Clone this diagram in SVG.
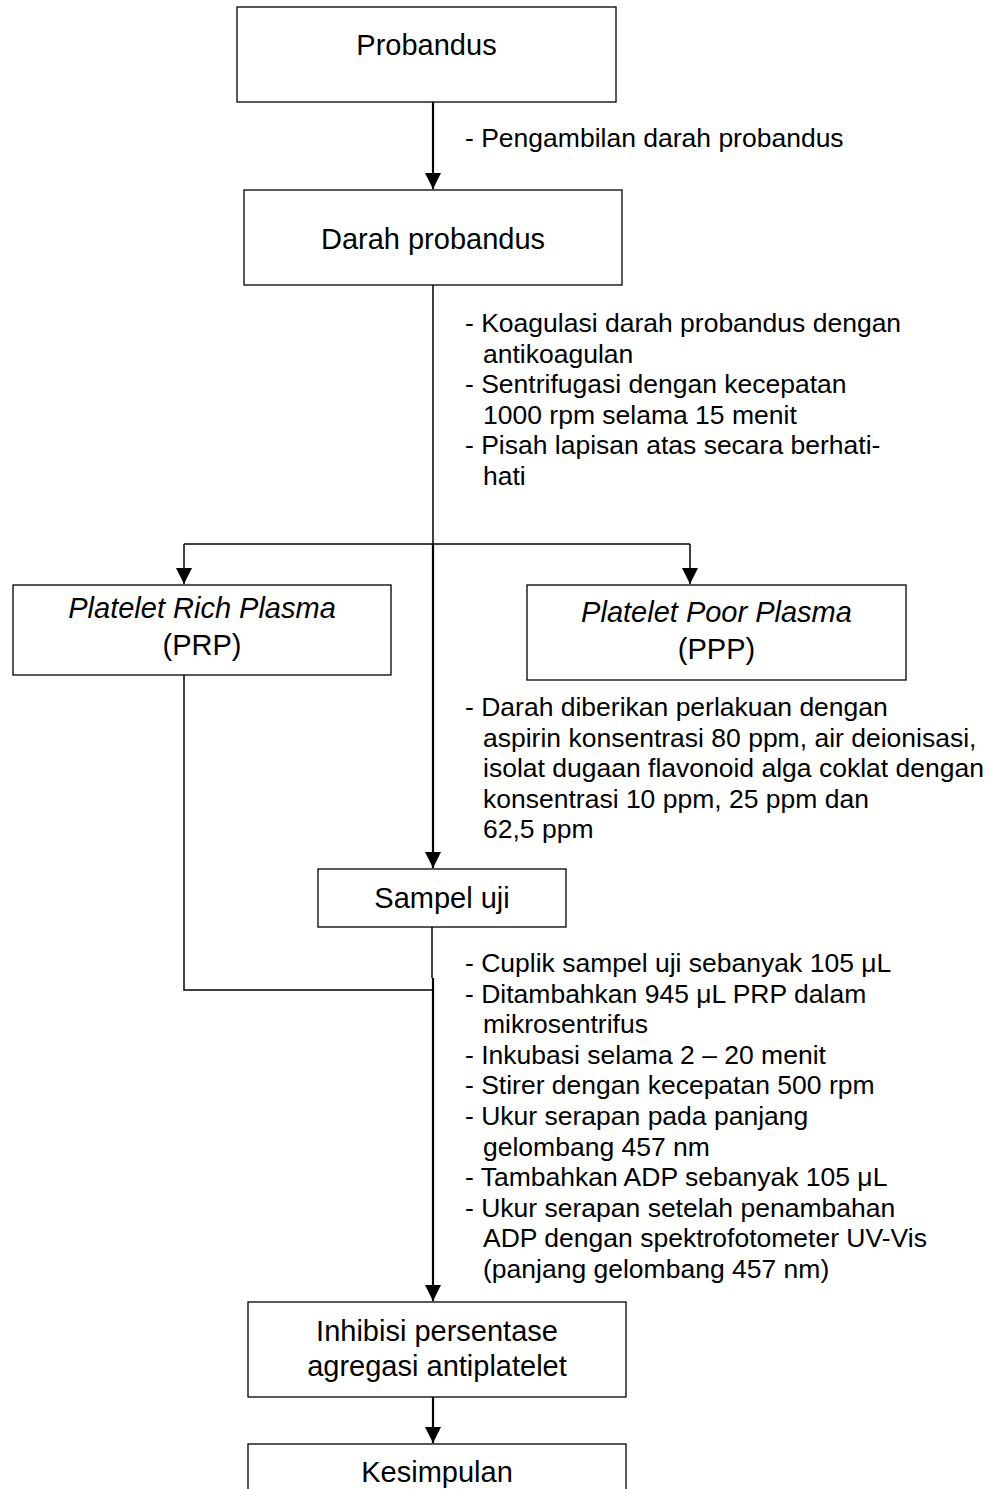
<svg xmlns="http://www.w3.org/2000/svg" width="996" height="1489" viewBox="0 0 996 1489">
<style>
.box{fill:#fff;stroke:#000;stroke-width:1.3}
.bt{font-family:"Liberation Sans",Arial,sans-serif;font-size:29px;fill:#000;text-anchor:middle}
.it{font-style:italic}
.an{font-family:"Liberation Sans",Arial,sans-serif;font-size:26.5px;fill:#000}
.ln{fill:none;stroke:#000;stroke-width:2.2}
.ln2{fill:none;stroke:#000;stroke-width:1.5}
</style>
<defs>
<marker id="ah" markerUnits="userSpaceOnUse" markerWidth="16" markerHeight="16" refX="16" refY="8" orient="auto">
<path d="M0,0 L16,8 L0,16 z" fill="#000"/>
</marker>
</defs>
<rect width="996" height="1489" fill="#fff"/>
<g id="connectors">
<line class="ln" x1="433" y1="102" x2="433" y2="189" marker-end="url(#ah)"/>
<line class="ln2" x1="433" y1="285" x2="433" y2="544"/>
<line class="ln" x1="433" y1="544" x2="433" y2="868" marker-end="url(#ah)"/>
<polyline class="ln2" points="184,544 690,544"/>
<line class="ln2" x1="690" y1="544" x2="690" y2="584" marker-end="url(#ah)"/>
<line class="ln2" x1="184" y1="544" x2="184" y2="584" marker-end="url(#ah)"/>
<polyline class="ln2" points="184,675 184,990 433,990"/>
<line class="ln2" x1="432" y1="927" x2="432" y2="978"/>
<line class="ln" x1="433" y1="978" x2="433" y2="1301" marker-end="url(#ah)"/>
<line class="ln" x1="433" y1="1397" x2="433" y2="1443" marker-end="url(#ah)"/>
</g>
<g id="n-probandus">
<rect class="box" x="237" y="7" width="379" height="95"/>
<text class="bt" x="426.5" y="55">Probandus</text>
</g>
<g id="lbl-1">
<text class="an" x="465" y="147">- Pengambilan darah probandus</text>
</g>
<g id="n-darah">
<rect class="box" x="244" y="190" width="378" height="95"/>
<text class="bt" x="433" y="249">Darah probandus</text>
</g>
<g id="lbl-2">
<text class="an" x="465" y="332">- Koagulasi darah probandus dengan</text>
<text class="an" x="483" y="362.6">antikoagulan</text>
<text class="an" x="465" y="393.2">- Sentrifugasi dengan kecepatan</text>
<text class="an" x="483" y="423.8">1000 rpm selama 15 menit</text>
<text class="an" x="465" y="454.4">- Pisah lapisan atas secara berhati-</text>
<text class="an" x="483" y="485">hati</text>
</g>
<g id="n-prp">
<rect class="box" x="13" y="585" width="378" height="90"/>
<text class="bt it" x="202" y="618">Platelet Rich Plasma</text>
<text class="bt" x="202" y="655">(PRP)</text>
</g>
<g id="n-ppp">
<rect class="box" x="527" y="585" width="379" height="95"/>
<text class="bt it" x="716.5" y="622">Platelet Poor Plasma</text>
<text class="bt" x="716.5" y="659">(PPP)</text>
</g>
<g id="lbl-3">
<text class="an" x="465" y="716">- Darah diberikan perlakuan dengan</text>
<text class="an" x="483" y="746.5">aspirin konsentrasi 80 ppm, air deionisasi,</text>
<text class="an" x="483" y="777">isolat dugaan flavonoid alga coklat dengan</text>
<text class="an" x="483" y="807.5">konsentrasi 10 ppm, 25 ppm dan</text>
<text class="an" x="483" y="838">62,5 ppm</text>
</g>
<g id="n-sampel">
<rect class="box" x="318" y="869" width="248" height="58"/>
<text class="bt" x="442" y="908">Sampel uji</text>
</g>
<g id="lbl-4">
<text class="an" x="465" y="972">- Cuplik sampel uji sebanyak 105 μL</text>
<text class="an" x="465" y="1002.6">- Ditambahkan 945 μL PRP dalam</text>
<text class="an" x="483" y="1033.2">mikrosentrifus</text>
<text class="an" x="465" y="1063.8">- Inkubasi selama 2 – 20 menit</text>
<text class="an" x="465" y="1094.4">- Stirer dengan kecepatan 500 rpm</text>
<text class="an" x="465" y="1125">- Ukur serapan pada panjang</text>
<text class="an" x="483" y="1155.6">gelombang 457 nm</text>
<text class="an" x="465" y="1186.2">- Tambahkan ADP sebanyak 105 μL</text>
<text class="an" x="465" y="1216.8">- Ukur serapan setelah penambahan</text>
<text class="an" x="483" y="1247.4">ADP dengan spektrofotometer UV-Vis</text>
<text class="an" x="483" y="1278">(panjang gelombang 457 nm)</text>
</g>
<g id="n-inhibisi">
<rect class="box" x="248" y="1302" width="378" height="95"/>
<text class="bt" x="437" y="1341">Inhibisi persentase</text>
<text class="bt" x="437" y="1376">agregasi antiplatelet</text>
</g>
<g id="n-kesimpulan">
<rect class="box" x="248" y="1444" width="378" height="95"/>
<text class="bt" x="437" y="1482">Kesimpulan</text>
</g>
</svg>
